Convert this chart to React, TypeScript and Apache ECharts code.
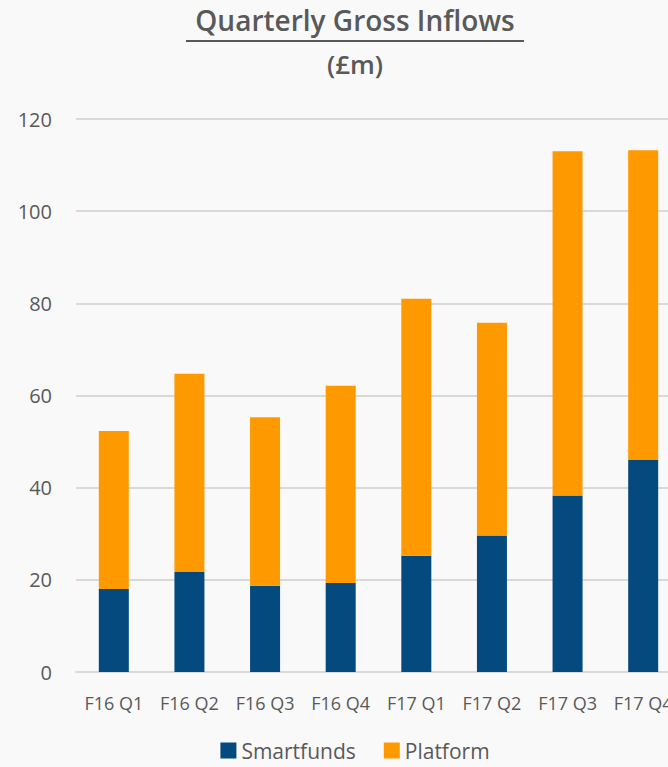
import React, { useEffect, useRef } from "react";
import * as echarts from "echarts";

const categories = ["F16 Q1", "F16 Q2", "F16 Q3", "F16 Q4", "F17 Q1", "F17 Q2", "F17 Q3", "F17 Q4"];
const smartfunds = [18.0, 21.7, 18.7, 19.3, 25.2, 29.6, 38.3, 46.0];
const platformTotals = [52.3, 64.7, 55.3, 62.1, 81.0, 75.8, 113.0, 113.2];
const platform = platformTotals.map((t, i) => +(t - smartfunds[i]).toFixed(1));
const yTicks = [0, 20, 40, 60, 80, 100, 120];

const FONT = "'Open Sans', 'Noto Sans', sans-serif";
const GRAY = "#595959";

export default function App() {
  const ref = useRef<HTMLDivElement>(null);
  useEffect(() => {
    if (!ref.current) return;
    const chart = echarts.init(ref.current, null, { renderer: "svg" });
    chart.setOption({
      animation: false,
      backgroundColor: "#f9f9f9",
      textStyle: { fontFamily: FONT },
      graphic: [
        {
          type: "text",
          left: "center",
          top: 6,
          style: { text: "Quarterly Gross Inflows", font: `600 28px ${FONT}`, fill: GRAY },
        },
        {
          type: "line",
          shape: { x1: 186, y1: 41, x2: 524, y2: 41 },
          style: { stroke: GRAY, lineWidth: 2 },
        },
        {
          type: "text",
          left: "center",
          top: 51,
          style: { text: "(£m)", font: `600 26px ${FONT}`, fill: GRAY },
        },
      ],
      legend: {
        top: 735,
        left: "center",
        itemWidth: 16,
        itemHeight: 16,
        itemGap: 28,
        icon: "rect",
        textStyle: { fontSize: 21, color: GRAY, fontFamily: FONT },
        data: ["Smartfunds", "Platform"],
      },
      grid: { left: 76, right: 29, top: 119, bottom: 95 },
      xAxis: {
        type: "category",
        data: categories,
        axisTick: { show: false },
        axisLine: { lineStyle: { color: "#d9d9d9", width: 2 } },
        axisLabel: { color: GRAY, fontSize: 18, margin: 22, interval: 0, fontFamily: FONT },
      },
      yAxis: {
        type: "value",
        min: yTicks[0],
        max: yTicks[yTicks.length - 1],
        interval: 20,
        axisLine: { show: false },
        axisTick: { show: false },
        axisLabel: { color: GRAY, fontSize: 20, margin: 24, fontFamily: FONT },
        splitLine: { lineStyle: { color: "#d9d9d9", width: 2 } },
      },
      series: [
        {
          name: "Smartfunds",
          type: "bar",
          stack: "total",
          barWidth: 30,
          data: smartfunds,
          itemStyle: { color: "#044a7e" },
        },
        {
          name: "Platform",
          type: "bar",
          stack: "total",
          barWidth: 30,
          data: platform,
          itemStyle: { color: "#ff9900" },
        },
      ],
    });
    return () => chart.dispose();
  }, []);
  return (
    <div style={{ position: "fixed", left: 0, top: 0, width: 668, height: 767, overflow: "hidden" }}>
      <div ref={ref} style={{ width: 710, height: 767 }} />
    </div>
  );
}
